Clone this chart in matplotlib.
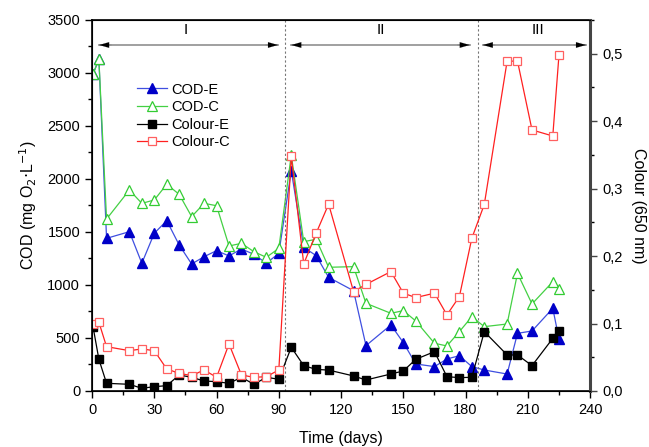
import matplotlib
matplotlib.use("Agg")
import matplotlib.pyplot as plt
from matplotlib.ticker import MultipleLocator, FuncFormatter

plt.rcParams['font.family'] = ['Liberation Sans', 'DejaVu Sans']

# sampling days (same for all four series)
days = [0.5, 3.3, 7, 18, 24, 30, 36, 42, 48, 54, 60, 66, 72, 78, 84, 90, 96, 102, 108,
        114, 126, 132, 144, 150, 156, 165, 171, 177, 183, 189, 200, 205, 212, 222, 225]

cod_e = [2990, 3130, 1440, 1503, 1205, 1488, 1607, 1377, 1198, 1267, 1324, 1274, 1340,
         1289, 1205, 1299, 2078, 1355, 1277, 1072, 946, 428, 623, 456, 255, 230, 302,
         333, 230, 198, 160, 544, 566, 780, 490]
cod_c = [2990, 3130, 1622, 1896, 1770, 1802, 1950, 1855, 1645, 1770, 1748, 1368, 1393,
         1314, 1261, 1346, 2226, 1409, 1431, 1167, 1173, 827, 733, 758, 660, 450, 425,
         560, 701, 607, 632, 1110, 821, 1031, 959]
colour_e = [0.095, 0.047, 0.0114, 0.0099, 0.004, 0.0064, 0.0079, 0.0237, 0.0203, 0.0148,
            0.0138, 0.0114, 0.0203, 0.0099, 0.0203, 0.0174, 0.0648, 0.0376, 0.032, 0.031,
            0.0223, 0.0163, 0.0252, 0.0297, 0.047, 0.0583, 0.0212, 0.0198, 0.0203, 0.088,
            0.0534, 0.0534, 0.0376, 0.078, 0.0895]
colour_c = [0.099, 0.102, 0.0657, 0.0598, 0.0623, 0.0598, 0.0326, 0.0262, 0.0227, 0.0312,
            0.0203, 0.0697, 0.0237, 0.0203, 0.0212, 0.0312, 0.3477, 0.1884, 0.234, 0.277,
            0.1474, 0.158, 0.177, 0.145, 0.1385, 0.145, 0.1128, 0.140, 0.2265, 0.2765,
            0.489, 0.489, 0.387, 0.378, 0.4985]

# stage boundaries and labels
stage_bounds = [93.2, 186.2]
stage_labels = ['I', 'II', 'III']
stage_label_x = [45, 139, 215]
stage_arrows = [(3.4, 89.6), (96.0, 182.0), (188.3, 238.0)]

fig = plt.figure(figsize=(6.49, 4.47), dpi=100)
ax = fig.add_axes([0.1418, 0.1253, 0.7675, 0.830])
ax2 = ax.twinx()

l1, = ax.plot(days, cod_e, color='#3f4fe0', lw=0.9, marker='^', ms=6.5,
              mfc='#0000c8', mec='#0000c8', label='COD-E')
l2, = ax.plot(days, cod_c, color='#44d044', lw=0.9, marker='^', ms=6.5,
              mfc='white', mec='#33cc33', mew=0.9, label='COD-C')
l3, = ax2.plot(days, colour_e, color='black', lw=0.9, marker='s', ms=5.2,
               mfc='black', mec='black', label='Colour-E')
l4, = ax2.plot(days, colour_c, color='#ff2020', lw=0.9, marker='s', ms=5.2,
               mfc='white', mec='#ff6060', mew=0.9, label='Colour-C')

ax.set_xlim(0, 240)
ax.set_ylim(0, 3500)
ax2.set_ylim(0, 0.55)

for b in stage_bounds:
    ax.axvline(b, color='#777777', lw=0.8, ls=(0, (2, 2)))

y_arrow = 3264
for (x0, x1) in stage_arrows:
    ax.plot([x0, x1], [y_arrow, y_arrow], color='#999999', lw=1.3, zorder=1)
    ax.annotate('', xy=(x1, y_arrow), xytext=(x1 - 6, y_arrow),
                arrowprops=dict(arrowstyle='-|>,head_length=0.7,head_width=0.2',
                                color='black', lw=0.1, shrinkA=0, shrinkB=0))
    ax.annotate('', xy=(x0, y_arrow), xytext=(x0 + 6, y_arrow),
                arrowprops=dict(arrowstyle='-|>,head_length=0.7,head_width=0.2',
                                color='black', lw=0.1, shrinkA=0, shrinkB=0))
for lab, x in zip(stage_labels, stage_label_x):
    ax.text(x, 3405, lab, ha='center', va='center', fontsize=11)

ax.xaxis.set_major_locator(MultipleLocator(30))
ax.xaxis.set_minor_locator(MultipleLocator(15))
ax.yaxis.set_major_locator(MultipleLocator(500))
ax.yaxis.set_minor_locator(MultipleLocator(250))
ax2.yaxis.set_major_locator(MultipleLocator(0.1))
ax2.yaxis.set_minor_locator(MultipleLocator(0.05))
ax2.yaxis.set_major_formatter(FuncFormatter(lambda v, p: f"{v:.1f}".replace('.', ',')))

for a in (ax, ax2):
    a.tick_params(which='major', direction='out', length=5, width=1, labelsize=10.5)
    a.tick_params(which='minor', direction='out', length=3, width=1)
for s in ['left', 'bottom', 'top']:
    ax.spines[s].set_linewidth(1.2)
ax2.spines['right'].set_linewidth(2.2)
ax2.spines['right'].set_color('#444444')
ax2.tick_params(axis='y', colors='#444444', labelcolor='black')

ax.set_xlabel('Time (days)', fontsize=11.5, labelpad=10)
ax.set_ylabel('COD (mg O$_2$$\\cdot$L$^{-1}$)', fontsize=11.5, labelpad=6)
ax2.set_ylabel('Colour (650 nm)', fontsize=11.5, rotation=270, labelpad=17)

fig.legend(handles=[l1, l2, l3, l4], loc='upper left', bbox_to_anchor=(0.197, 0.835),
           frameon=False, fontsize=10.5, handlelength=2.1, handletextpad=0.3,
           labelspacing=0.25, borderpad=0.1)

fig.savefig('out.png', dpi=100)
